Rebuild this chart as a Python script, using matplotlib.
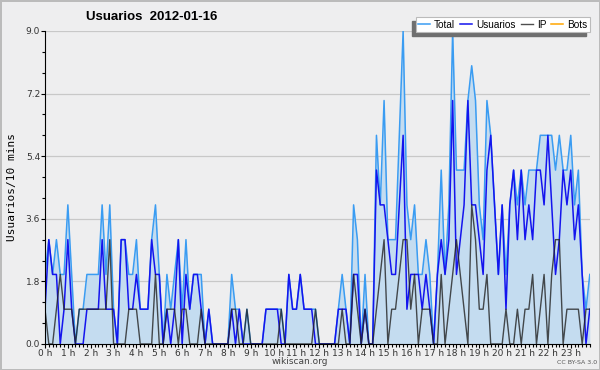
import matplotlib
matplotlib.use("Agg")
import matplotlib.pyplot as plt
from matplotlib.patches import Rectangle
from matplotlib.ticker import MultipleLocator, FixedLocator

# values per 10-minute slot, 0h00 .. 23h50 (one row = 4 hours)
total = [2, 3, 2, 3, 2, 2, 4, 2, 0, 1, 1, 2, 2, 2, 2, 4, 2, 4, 1, 0, 3, 3, 2, 2,
         3, 1, 1, 1, 3, 4, 2, 0, 2, 1, 2, 3, 1, 3, 1, 2, 2, 2, 0, 1, 0, 0, 0, 0,
         0, 2, 1, 1, 0, 1, 0, 0, 0, 0, 1, 1, 1, 1, 1, 0, 2, 1, 1, 2, 1, 1, 1, 1,
         0, 0, 0, 0, 0, 1, 2, 1, 0, 4, 3, 0, 2, 0, 0, 6, 4, 7, 3, 3, 3, 6, 9, 4,
         3, 4, 2, 2, 3, 2, 0, 2, 5, 2, 4, 9, 5, 5, 5, 7, 8, 7, 4, 3, 7, 6, 4, 2,
         4, 2, 4, 5, 4, 5, 4, 5, 5, 5, 6, 6, 6, 6, 5, 6, 5, 5, 6, 4, 5, 2, 1, 2]
usuarios = [1, 3, 2, 2, 0, 1, 3, 1, 0, 0, 0, 1, 1, 1, 1, 3, 1, 1, 1, 0, 3, 3, 1, 1,
            2, 1, 1, 1, 3, 2, 2, 0, 1, 0, 1, 3, 0, 2, 1, 2, 2, 1, 0, 1, 0, 0, 0, 0,
            0, 1, 0, 1, 0, 0, 0, 0, 0, 0, 1, 1, 1, 1, 0, 0, 2, 1, 1, 2, 1, 1, 1, 0,
            0, 0, 0, 0, 0, 1, 1, 1, 0, 2, 2, 0, 1, 0, 0, 5, 4, 4, 3, 2, 2, 4, 6, 1,
            2, 2, 2, 1, 2, 1, 0, 2, 3, 2, 3, 7, 2, 3, 4, 7, 4, 4, 3, 2, 5, 6, 4, 2,
            4, 1, 4, 5, 3, 5, 3, 4, 3, 5, 5, 4, 6, 4, 2, 3, 5, 4, 5, 3, 4, 2, 0, 1]
ip = [1, 0, 0, 1, 2, 1, 1, 1, 0, 1, 1, 1, 1, 1, 1, 1, 1, 3, 0, 0, 0, 0, 1, 1,
      1, 0, 0, 0, 0, 2, 0, 0, 1, 1, 1, 0, 1, 1, 0, 0, 0, 1, 0, 0, 0, 0, 0, 0,
      0, 1, 1, 0, 0, 1, 0, 0, 0, 0, 0, 0, 0, 0, 1, 0, 0, 0, 0, 0, 0, 0, 0, 1,
      0, 0, 0, 0, 0, 0, 1, 0, 0, 2, 1, 0, 1, 0, 0, 1, 2, 3, 0, 1, 1, 2, 3, 3,
      1, 2, 0, 1, 1, 1, 0, 0, 2, 0, 1, 2, 3, 2, 1, 0, 4, 3, 1, 1, 2, 0, 0, 0,
      0, 1, 0, 0, 1, 0, 1, 1, 2, 0, 1, 2, 0, 2, 3, 3, 0, 1, 1, 1, 1, 0, 1, 1]

hours = [i / 6 for i in range(len(total))]
hour_labels = [f"{h} h" for h in range(24)]
y_ticks = [0, 1.8, 3.6, 5.4, 7.2, 9.0]

bg = "#eeeeef"
fig = plt.figure(figsize=(6, 3.7), dpi=100, facecolor=bg)
ax = fig.add_axes([0.075, 0.0703, 0.908, 0.846])
ax.set_facecolor(bg)

ax.fill_between(hours, total, 0, color="#c4dcf0", lw=0)
ax.plot(hours, total, color="#3a9cf2", lw=1.1, label="Total")
ax.plot(hours, usuarios, color="#1414ee", lw=1.1, label="Usuarios")
ax.plot(hours, ip, color="#222222", lw=1.0, alpha=0.8, label="IP")
ax.plot([], [], color="#ffa500", lw=1.1, label="Bots")

ax.set_xlim(0, hours[-1])
ax.set_ylim(0, 9)
ax.yaxis.set_major_locator(FixedLocator(y_ticks))
ax.yaxis.set_minor_locator(MultipleLocator(0.6))
ax.set_yticklabels([f"{v:.1f}" for v in y_ticks])
ax.xaxis.set_major_locator(FixedLocator(list(range(24))))
ax.xaxis.set_minor_locator(MultipleLocator(1 / 6))
ax.set_xticklabels(hour_labels)
ax.grid(axis="y", color="#c8c8c8", lw=0.9)
ax.set_axisbelow(True)

for s in ["top", "right"]:
    ax.spines[s].set_visible(False)
ax.tick_params(axis="both", which="major", labelsize=6.5, labelcolor="#333333",
               length=3, width=0.8, pad=0.5)
ax.tick_params(axis="both", which="minor", length=2.5, width=0.8)

ax.set_ylabel("Usuarios/10 mins", fontsize=8, family="DejaVu Sans Mono", labelpad=6)
fig.text(0.252, 0.955, "Usuarios  2012-01-16", fontsize=9.5, fontweight="bold",
         family="Liberation Sans", ha="center", va="center")
fig.text(0.5, 0.022, "wikiscan.org", fontsize=6.5, color="#444444", ha="center", va="center")
fig.text(0.962, 0.021, "CC BY-SA 3.0", fontsize=4.5, color="#555555", ha="center", va="center")

leg = fig.legend(loc="upper right", bbox_to_anchor=(0.983, 0.953), ncol=4,
                 prop={"family": "Liberation Sans", "size": 7.2}, frameon=True,
                 fancybox=False, handlelength=1.2, handletextpad=0.4,
                 columnspacing=0.5, borderpad=0.25, borderaxespad=0,
                 edgecolor="#bbbbbb", framealpha=1)
leg.get_frame().set_linewidth(0.8)
leg.set_zorder(6)

# shadow below-left of the legend box, like the reference
fig.canvas.draw()
bb = leg.get_window_extent().transformed(fig.transFigure.inverted())
fig.patches.append(Rectangle((bb.x0 - 4 / 600, bb.y0 - 4 / 370), bb.width, bb.height,
                             transform=fig.transFigure, color="#6f6f6f", zorder=5))

fig.patch.set_edgecolor("#bbbbbb")
fig.patch.set_linewidth(2)
fig.savefig("out.png", dpi=100, facecolor=bg, edgecolor=fig.patch.get_edgecolor())
